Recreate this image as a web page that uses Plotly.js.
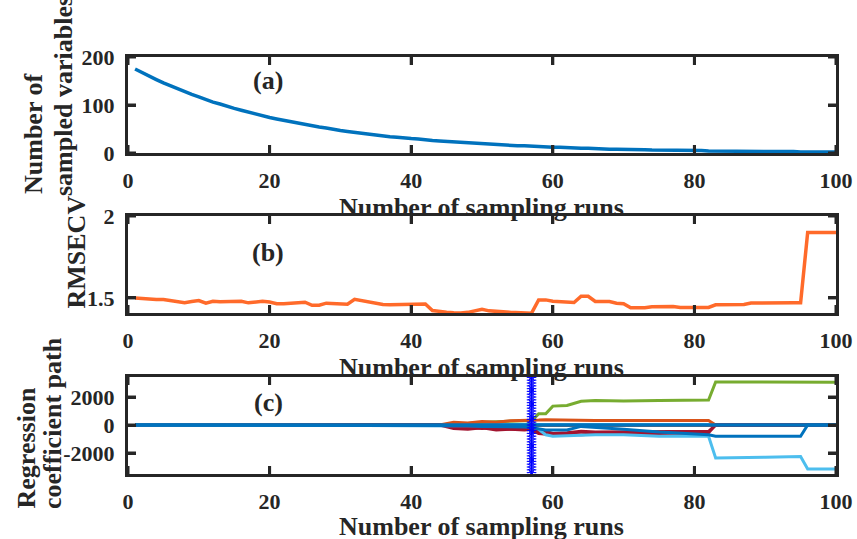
<!DOCTYPE html>
<html>
<head>
<meta charset="utf-8">
<script src="https://cdn.plot.ly/plotly-3.0.1.min.js"></script>
<style>html,body{margin:0;padding:0;background:#fff;}#chart{width:857px;height:539px;}</style>
</head>
<body>
<div id="chart"></div>
<script>
// ---------- data ----------
const runs = [1,2,3,4,5,6,7,8,9,10,11,12,13,14,15,16,17,18,19,20,21,22,23,24,25,26,27,28,29,30,
  31,32,33,34,35,36,37,38,39,40,41,42,43,44,45,46,47,48,49,50,51,52,53,54,55,56,57,58,59,60,
  61,62,63,64,65,66,67,68,69,70,71,72,73,74,75,76,77,78,79,80,81,82,83,84,85,86,87,88,89,90,
  91,92,93,94,95,96,97,98,99,100];

const nSampledVars = [175,167,160,153,146,140,133,128,122,117,
  111,106,102,97,93,89,85,81,78,74,
  71,68,65,62,59,57,54,52,49,47,
  45,43,41,39,38,36,34,33,31,30,
  29,27,26,25,24,23,22,21,20,19,
  18,17,17,16,15,15,14,13,13,12,
  12,11,11,10,10,9,9,8,8,8,
  7,7,7,6,6,6,6,5,5,5,
  5,4,4,4,4,4,4,3,3,3,
  3,3,3,3,2,2,2,2,2,2];

const rmsecv = [1.500,1.495,1.492,1.490,1.490,1.485,1.480,1.471,1.478,1.484,
  1.468,1.480,1.477,1.478,1.480,1.480,1.470,1.475,1.480,1.475,
  1.465,1.465,1.468,1.472,1.474,1.455,1.455,1.468,1.465,1.463,
  1.462,1.492,1.484,1.472,1.466,1.460,1.459,1.459,1.459,1.459,
  1.460,1.463,1.423,1.416,1.413,1.410,1.408,1.412,1.420,1.431,
  1.421,1.420,1.415,1.412,1.410,1.408,1.407,1.488,1.488,1.480,
  1.478,1.478,1.472,1.510,1.510,1.478,1.478,1.478,1.468,1.465,
  1.440,1.440,1.440,1.446,1.447,1.447,1.447,1.442,1.442,1.442,
  1.442,1.442,1.458,1.459,1.459,1.459,1.460,1.469,1.470,1.470,
  1.470,1.470,1.470,1.470,1.470,1.900,1.900,1.900,1.900,1.900];

// regression coefficient paths (values at key runs)
const cRuns      = [1, 44, 46, 48, 50, 52, 54, 56, 57, 58, 59, 60, 62, 64, 66, 70, 75, 82, 83, 90, 95, 96, 97, 100];
const coefGreen  = [0, 0, 60, 100, 200, 250, 250, 300, 300, 800, 800, 1350, 1400, 1700, 1750, 1720, 1760, 1780, 3080, 3070, 3070, 3070, 3070, 3060];
const coefOrange = [0, 0, 200, 150, 250, 200, 300, 300, 300, 350, 380, 380, 380, 350, 330, 320, 330, 330, 0, 0, 0, 0, 0, 0];
const coefRed1   = [0, 0, -250, -300, -200, -350, -300, -350, -300, -450, -450, -600, -550, -450, -500, -500, -450, -450, 0, 0, 0, 0, 0, 0];
const coefRed2   = [0, 0, -100, -150, -250, -200, -300, -250, -350, -600, -650, -700, -650, -700, -650, -600, -600, -550, 0, 0, 0, 0, 0, 0];
const coefLBlue  = [0, 0, 0, -30, -50, -60, -80, -100, -100, -300, -700, -800, -750, -750, -700, -700, -800, -800, -2350, -2300, -2250, -3150, -3150, -3150];
const coefBlue2  = [0, 0, 0, -50, -100, -100, -150, -150, -200, -300, -350, -350, -350, -100, -150, -300, -500, -700, -800, -800, -800, 0, 0, 0];
const zeroRuns   = [1, 100];
const coefZeroOrange = [-40, -40];
const coefZeroLBlue  = [40, 40];
const coefZeroBlue   = [0, 0];

const bestRun = 57;
const starY = [-3400,-3200,-3000,-2800,-2600,-2400,-2200,-2000,-1800,-1600,-1400,-1200,-1000,-800,-600,-400,-200,
  0,200,400,600,800,1000,1200,1400,1600,1800,2000,2200,2400,2600,2800,3000,3200,3400];
const starX = starY.map(() => bestRun);

const xTicks = [0,20,40,60,80,100];
const yTicksA = [0,100,200];
const yTicksB = [1.5,2];
const yTicksC = [-2000,0,2000];
const yTickTextC = ['-2000','0','2000'];

// ---------- style ----------
const FONT = 'Liberation Serif, Times New Roman, serif';
const INK = '#262626';
const L = 128, R = 21, T = 57, B = 65;
const PW = 857 - L - R, PH = 539 - T - B;
const px = x => (x - L) / PW;
const py = y => (539 - B - y) / PH;

const xRange = [0, 100];
const rangeA = [0, 200], rangeB = [1.408, 2.0], rangeC = [-3500, 3430];
const dA = [py(153), 1];
const dB = [py(313), py(216)];
const dC = [0, py(377)];

function xax(anchor) {
  return {domain:[0,1], anchor:anchor, range:xRange, tickvals:xTicks, ticktext:xTicks.map(String),
    showline:true, mirror:'allticks', linecolor:INK, linewidth:3, ticks:'inside', ticklen:8, tickwidth:3, tickcolor:INK,
    showgrid:false, zeroline:false, ticklabelstandoff:6,
    tickfont:{family:FONT, size:22, weight:'bold', color:INK}};
}
function yax(anchor, dom, range, vals, texts) {
  return {domain:dom, anchor:anchor, range:range, tickvals:vals, ticktext:texts,
    showline:true, mirror:'allticks', linecolor:INK, linewidth:3, ticks:'inside', ticklen:8, tickwidth:3, tickcolor:INK,
    showgrid:false, zeroline:false, ticklabelstandoff:6,
    tickfont:{family:FONT, size:22, weight:'bold', color:INK}};
}

// inward tick marks on all four sides, built from the tick arrays (8 px long)
function tickTrace(xa, ya, yRange, dom, yVals) {
  const TL = 8;
  const dx = (xRange[1] - xRange[0]) / PW * TL;
  const dy = (yRange[1] - yRange[0]) / ((dom[1] - dom[0]) * PH) * TL;
  const X = [], Y = [];
  xTicks.forEach(v => {
    X.push(v, v, null, v, v, null);
    Y.push(yRange[0], yRange[0] + dy, null, yRange[1] - dy, yRange[1], null);
  });
  yVals.forEach(v => {
    X.push(xRange[0], xRange[0] + dx, null, xRange[1] - dx, xRange[1], null);
    Y.push(v, v, null, v, v, null);
  });
  return {x:X, y:Y, xaxis:xa, yaxis:ya, mode:'lines', connectgaps:false, hoverinfo:'skip',
    line:{color:INK, width:3}, cliponaxis:false};
}

const traces = [
  {x:runs, y:nSampledVars, xaxis:'x', yaxis:'y', mode:'lines', line:{color:'#0072BD', width:3.5}},
  {x:runs, y:rmsecv, xaxis:'x2', yaxis:'y2', mode:'lines', line:{color:'#FF6A2A', width:3.5}},
  {x:zeroRuns, y:coefZeroOrange, xaxis:'x3', yaxis:'y3', mode:'lines', line:{color:'#D95319', width:3}},
  {x:zeroRuns, y:coefZeroLBlue, xaxis:'x3', yaxis:'y3', mode:'lines', line:{color:'#4DBEEE', width:3}},
  {x:cRuns, y:coefGreen, xaxis:'x3', yaxis:'y3', mode:'lines', line:{color:'#77AC30', width:3}},
  {x:cRuns, y:coefOrange, xaxis:'x3', yaxis:'y3', mode:'lines', line:{color:'#D95319', width:3}},
  {x:cRuns, y:coefRed1, xaxis:'x3', yaxis:'y3', mode:'lines', line:{color:'#A2142F', width:3}},
  {x:cRuns, y:coefRed2, xaxis:'x3', yaxis:'y3', mode:'lines', line:{color:'#A2142F', width:3}},
  {x:cRuns, y:coefLBlue, xaxis:'x3', yaxis:'y3', mode:'lines', line:{color:'#4DBEEE', width:3}},
  {x:cRuns, y:coefBlue2, xaxis:'x3', yaxis:'y3', mode:'lines', line:{color:'#0072BD', width:3}},
  {x:zeroRuns, y:coefZeroBlue, xaxis:'x3', yaxis:'y3', mode:'lines', line:{color:'#0072BD', width:3.5}},
  {x:starX, y:starY, xaxis:'x3', yaxis:'y3', mode:'markers',
   marker:{symbol:'asterisk-open', size:8, color:'#0000FF', line:{color:'#0000FF', width:1}}},
  tickTrace('x', 'y', rangeA, dA, yTicksA),
  tickTrace('x2', 'y2', rangeB, dB, yTicksB),
  tickTrace('x3', 'y3', rangeC, dC, yTicksC)
];

function ann(text, x, y, opts) {
  return Object.assign({text:text, x:px(x), y:py(y), xref:'paper', yref:'paper', showarrow:false,
    xanchor:'center', yanchor:'middle', font:{family:FONT, size:26, weight:'bold', color:INK}}, opts || {});
}

const layout = {
  width:857, height:539, margin:{l:L, r:R, t:T, b:B, pad:0}, showlegend:false,
  xaxis: xax('y'), yaxis: yax('x', dA, rangeA, yTicksA, yTicksA.map(String)),
  xaxis2: xax('y2'), yaxis2: yax('x2', dB, rangeB, yTicksB, ['1.5','2']),
  xaxis3: xax('y3'), yaxis3: yax('x3', dC, rangeC, yTicksC, yTickTextC),
  annotations: [
    ann('(a)', 268, 80), ann('(b)', 268, 252), ann('(c)', 268, 402),
    ann('Number of sampling runs', 481, 207),
    ann('Number of sampling runs', 481, 367),
    ann('Number of sampling runs', 481, 526),
    ann('Number of', 33, 196, {textangle:-90, yanchor:'bottom'}),
    ann('sampled variables', 63, 198, {textangle:-90, yanchor:'bottom'}),
    ann('RMSECV', 76, 311, {textangle:-90, yanchor:'bottom'}),
    ann('Regression', 26, 511, {textangle:-90, yanchor:'bottom'}),
    ann('coefficient path', 53, 511, {textangle:-90, yanchor:'bottom'})
  ]
};

Plotly.newPlot('chart', traces, layout, {staticPlot:true});
</script>
</body>
</html>
